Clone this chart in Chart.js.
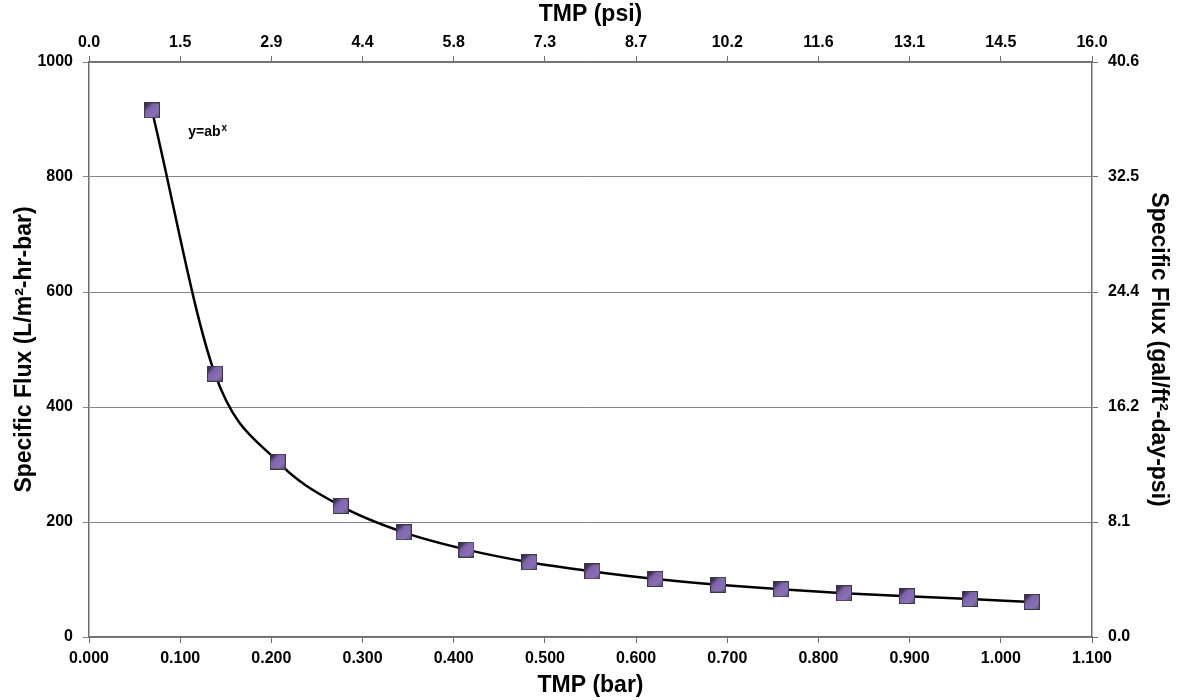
<!DOCTYPE html>
<html>
<head>
<meta charset="utf-8">
<script src="https://cdn.jsdelivr.net/npm/chart.js@4.4.1/dist/chart.umd.min.js"></script>
<style>
  html, body { margin: 0; padding: 0; background: #fff; }
  #wrap { width: 1177px; height: 700px; position: relative; }
</style>
</head>
<body>
<div id="wrap"><canvas id="grafico" width="1177" height="700"></canvas></div>
<script>
// TMP (bar) vs specific flux (L/m2-hr-bar)
const tmpBar = [0.069, 0.138, 0.207, 0.276, 0.345, 0.414, 0.483, 0.552, 0.621, 0.690, 0.759, 0.828, 0.897, 0.966, 1.034];
const fluxLmh = [916, 458, 305, 228, 182, 152, 130, 114, 101, 91, 83, 76, 71, 66, 61];

// tick labels of the secondary axes (same positions as the primary ticks)
const psiTicks = ['0.0', '1.5', '2.9', '4.4', '5.8', '7.3', '8.7', '10.2', '11.6', '13.1', '14.5', '16.0'];
const gfdTicks = ['0.0', '8.1', '16.2', '24.4', '32.5', '40.6'];

const fonte = 'Liberation Sans, Arial, sans-serif';
const tickFont = { family: fonte, size: 16, weight: 'bold' };
const titleFont = { family: fonte, size: 23, weight: 'bold' };
const corGrade = '#858585';
const corEixo = '#6e6e6e';

const pontos = tmpBar.map((x, i) => ({ x: x, y: fluxLmh[i] }));

// square marker with the shaded look of the original
function marcador() {
    const s = 16;
    const c = document.createElement('canvas');
    c.width = s;
    c.height = s;
    const g = c.getContext('2d');
    const grad = g.createLinearGradient(0, 0, s, s);
    grad.stop = 0;
    grad.addColorStop(0, '#231a33');
    grad.addColorStop(0.22, '#4a3a6a');
    grad.addColorStop(0.35, '#7e64aa');
    grad.addColorStop(0.7, '#8a70b6');
    grad.addColorStop(1, '#5c4688');
    g.fillStyle = grad;
    g.fillRect(0, 0, s, s);
    g.strokeStyle = '#3a3a44';
    g.lineWidth = 1;
    g.strokeRect(0.5, 0.5, s - 1, s - 1);
    return c;
}

const rotulo = {
    id: 'rotulo',
    afterDatasetsDraw(chart) {
        const ctx = chart.ctx;
        const px = chart.scales.x.getPixelForValue(0.1) + 8;
        const py = chart.scales.y.getPixelForValue(880) + 5;
        ctx.save();
        ctx.fillStyle = '#000';
        ctx.textBaseline = 'alphabetic';
        ctx.font = 'bold 14px ' + fonte;
        ctx.fillText('y=ab', px, py);
        const w = ctx.measureText('y=ab').width;
        ctx.font = 'bold 10px ' + fonte;
        ctx.fillText('x', px + w + 1, py - 5);
        ctx.restore();
    }
};

new Chart(document.getElementById('grafico'), {
    type: 'scatter',
    data: {
        datasets: [{
            data: pontos,
            showLine: true,
            borderColor: '#000',
            borderWidth: 2.5,
            tension: 0.4,
            cubicInterpolationMode: 'monotone',
            pointStyle: marcador(),
            pointRadius: 8,
            pointHoverRadius: 8
        }]
    },
    options: {
        responsive: false,
        animation: false,
        layout: { padding: 0 },
        plugins: {
            legend: { display: false },
            tooltip: { enabled: false }
        },
        scales: {
            x: {
                type: 'linear',
                position: 'bottom',
                min: 0, max: 1.1,
                afterFit: s => { s.height = 63; },
                ticks: {
                    stepSize: 0.1, color: '#000', font: tickFont, padding: 6, maxRotation: 0,
                    callback: v => v.toFixed(3)
                },
                grid: { drawOnChartArea: false, color: corEixo, tickLength: 6 },
                border: { color: corEixo, width: 1.5 },
                title: { display: true, text: 'TMP (bar)', color: '#000', font: titleFont, padding: { top: 0, bottom: 1 } }
            },
            x2: {
                type: 'linear',
                position: 'top',
                min: 0, max: 1.1,
                afterFit: s => { s.height = 62; },
                ticks: {
                    stepSize: 0.1, color: '#000', font: tickFont, padding: 4, maxRotation: 0,
                    callback: (v, i) => psiTicks[i]
                },
                grid: { drawOnChartArea: false, color: corEixo, tickLength: 6 },
                border: { color: corEixo, width: 1.5 },
                title: { display: true, text: 'TMP (psi)', color: '#000', font: titleFont, padding: { top: 1, bottom: 0 } }
            },
            y: {
                position: 'left',
                min: 0, max: 1000,
                afterFit: s => { s.width = 89; },
                ticks: { stepSize: 200, color: '#000', font: tickFont, padding: 10, callback: v => String(v) },
                grid: { color: corGrade, tickLength: 6, lineWidth: 1 },
                border: { color: corEixo, width: 1.5 },
                title: { display: true, text: 'Specific Flux (L/m²-hr-bar)', color: '#000', font: titleFont, padding: { top: 11, bottom: 0 } }
            },
            y2: {
                position: 'right',
                min: 0, max: 1000,
                afterFit: s => { s.width = 85; },
                ticks: {
                    stepSize: 200, color: '#000', font: tickFont, padding: 10,
                    callback: (v, i) => gfdTicks[i]
                },
                grid: { drawOnChartArea: false, color: corEixo, tickLength: 6 },
                border: { color: corEixo, width: 1.5 },
                title: { display: true, text: 'Specific Flux (gal/ft²-day-psi)', color: '#000', font: titleFont, padding: { top: 5, bottom: 0 } }
            }
        }
    },
    plugins: [rotulo]
});
</script>
</body>
</html>
